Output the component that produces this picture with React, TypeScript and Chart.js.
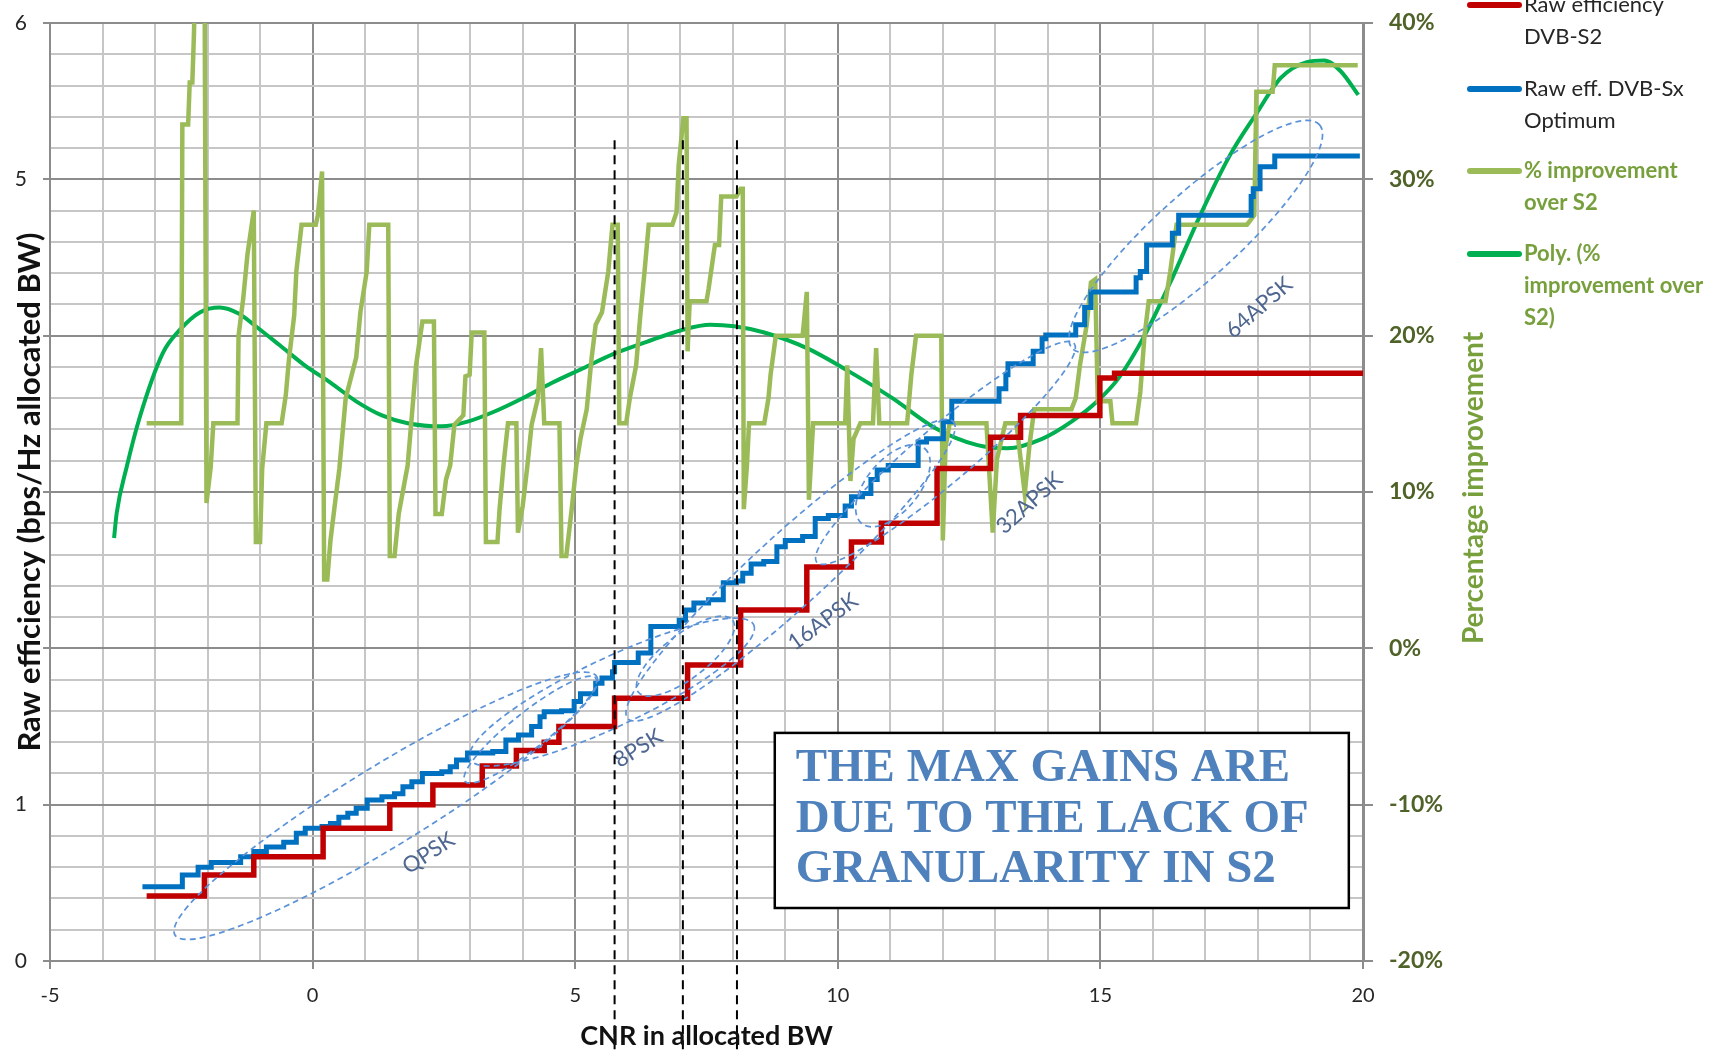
import React, { useEffect, useRef } from 'react';
import { Chart, registerables } from 'chart.js';
Chart.register(...registerables);
Chart.defaults.font.family = 'Lato';

// ---- DVB-S2 raw efficiency (step changes) ----
const cnrS2 = [-3.16, -2.06, -1.12, 0.20, 1.47, 2.29, 3.23, 3.88, 4.41, 4.69, 5.75, 7.14, 8.15, 9.41, 10.26, 10.83, 11.89, 12.91, 13.48, 14.99, 15.27, 20.0];
const effS2 = [0.416, 0.55, 0.667, 0.849, 1.0, 1.126, 1.248, 1.346, 1.40, 1.50, 1.68, 1.894, 2.245, 2.52, 2.68, 2.80, 3.15, 3.35, 3.49, 3.73, 3.76, 3.76];

// ---- DVB-Sx optimum raw efficiency (step changes) ----
const cnrSx = [-3.24, -2.48, -2.18, -1.93, -1.37, -1.12, -0.88, -0.55, -0.31, -0.14, 0.18, 0.34, 0.50, 0.67, 0.83, 1.04, 1.32, 1.56, 1.72, 1.89, 2.09, 2.46, 2.62, 2.74, 2.95, 3.43, 3.68, 3.92, 4.17, 4.33, 4.41, 4.74, 4.98, 5.10, 5.39, 5.51, 5.71, 5.75, 6.20, 6.44, 6.98, 7.10, 7.26, 7.54, 7.82, 8.07, 8.19, 8.35, 8.59, 8.84, 9.00, 9.33, 9.57, 9.82, 10.14, 10.26, 10.47, 10.63, 10.75, 10.96, 11.53, 11.69, 12.01, 12.17, 13.07, 13.20, 13.24, 13.72, 13.89, 13.96, 14.53, 14.70, 14.82, 15.68, 15.76, 15.88, 16.37, 16.49, 17.87, 17.91, 18.04, 18.32, 19.94];
const effSx = [0.475, 0.55, 0.60, 0.63, 0.667, 0.70, 0.73, 0.76, 0.817, 0.849, 0.86, 0.88, 0.92, 0.945, 0.977, 1.03, 1.05, 1.07, 1.115, 1.147, 1.20, 1.21, 1.243, 1.286, 1.33, 1.34, 1.414, 1.446, 1.50, 1.563, 1.595, 1.60, 1.66, 1.71, 1.777, 1.81, 1.85, 1.91, 1.97, 2.14, 2.18, 2.245, 2.29, 2.31, 2.42, 2.43, 2.48, 2.54, 2.555, 2.65, 2.69, 2.715, 2.83, 2.85, 2.91, 2.97, 2.99, 3.08, 3.14, 3.17, 3.32, 3.34, 3.45, 3.58, 3.66, 3.75, 3.82, 3.90, 3.98, 4.005, 4.07, 4.18, 4.28, 4.37, 4.41, 4.58, 4.655, 4.77, 4.89, 4.94, 5.08, 5.15, 5.15];

// ---- % improvement over S2 ----
const cnrImp = [-3.16, -2.50, -2.48, -2.37, -2.34, -2.29, -2.26, -2.21, -2.06, -2.02, -1.94, -1.89, -1.43, -1.41, -1.32, -1.24, -1.12, -1.08, -1.0, -0.96, -0.88, -0.59, -0.51, -0.45, -0.35, -0.31, -0.21, 0.06, 0.10, 0.18, 0.22, 0.28, 0.34, 0.42, 0.51, 0.63, 0.83, 0.91, 1.03, 1.08, 1.44, 1.47, 1.56, 1.64, 1.81, 1.89, 1.97, 2.09, 2.31, 2.34, 2.46, 2.54, 2.62, 2.70, 2.87, 2.91, 2.99, 3.03, 3.27, 3.30, 3.52, 3.56, 3.64, 3.72, 3.88, 3.91, 4.0, 4.09, 4.17, 4.29, 4.35, 4.41, 4.70, 4.74, 4.83, 4.94, 5.02, 5.10, 5.22, 5.31, 5.39, 5.51, 5.63, 5.71, 5.81, 5.84, 5.97, 6.04, 6.16, 6.24, 6.32, 6.40, 6.85, 6.93, 6.97, 7.06, 7.12, 7.14, 7.18, 7.50, 7.54, 7.66, 7.74, 7.78, 8.07, 8.15, 8.19, 8.21, 8.27, 8.31, 8.60, 8.68, 8.72, 8.82, 9.33, 9.41, 9.45, 9.53, 10.14, 10.18, 10.24, 10.30, 10.43, 10.67, 10.73, 10.79, 11.32, 11.40, 11.49, 11.97, 12.00, 12.05, 12.13, 12.83, 12.95, 13.03, 13.19, 13.40, 13.56, 13.65, 13.74, 14.45, 14.53, 14.61, 14.74, 14.82, 14.90, 14.95, 15.19, 15.23, 15.68, 15.76, 15.84, 15.92, 16.24, 16.33, 16.45, 17.79, 17.93, 17.97, 18.28, 18.32, 19.90];
const impPct = [14.4, 14.4, 33.5, 33.5, 36.2, 36.2, 39.2, 46, 46, 9.3, 11.6, 14.4, 14.4, 20.0, 22.4, 25.2, 28.0, 6.8, 6.8, 11.5, 14.4, 14.4, 16.2, 18.5, 21.3, 24.1, 27.1, 27.1, 27.7, 30.5, 4.4, 4.4, 6.9, 9.1, 11.5, 16.0, 18.6, 21.5, 24.1, 27.1, 27.1, 5.9, 5.9, 8.6, 11.7, 14.9, 18.1, 20.9, 20.9, 8.6, 8.6, 10.8, 11.7, 14.3, 14.9, 17.4, 17.5, 20.2, 20.2, 6.8, 6.8, 8.9, 11.9, 14.4, 14.4, 7.4, 9.1, 11.7, 14.3, 16.0, 19.2, 14.4, 14.4, 5.9, 5.9, 9.1, 11.7, 13.4, 15.3, 18.5, 20.7, 21.5, 24.1, 27.1, 27.1, 14.4, 14.4, 16.0, 18.1, 21.3, 24.1, 27.1, 27.1, 27.9, 30.9, 33.9, 33.9, 19.0, 22.2, 22.2, 23.0, 25.8, 25.8, 28.9, 28.9, 29.4, 29.4, 8.9, 11.7, 14.4, 14.4, 16.0, 17.5, 20.0, 20.0, 22.8, 9.5, 14.4, 14.4, 18.1, 10.7, 13.4, 14.4, 14.4, 19.2, 14.4, 14.4, 17.5, 20.0, 20.0, 6.9, 12.8, 14.4, 14.4, 7.4, 12.1, 14.4, 14.4, 9.9, 13.0, 15.3, 15.3, 16.0, 18.1, 20.7, 23.4, 23.6, 15.8, 15.8, 14.4, 14.4, 16.4, 20.0, 22.2, 22.2, 24.1, 27.1, 27.1, 27.7, 35.6, 35.6, 37.3, 37.3];

// ---- Poly. trend of % improvement ----
const cnrPoly = [-3.78, -3.73, -3.54, -3.29, -2.85, -2.52, -2.14, -1.77, -1.40, -1.12, -0.63, -0.15, 0.34, 0.83, 1.32, 1.81, 2.46, 2.95, 3.43, 4.0, 4.57, 5.14, 5.71, 6.36, 7.02, 7.57, 8.03, 8.6, 9.41, 10.22, 11.04, 11.85, 12.66, 13.23, 13.89, 14.45, 14.94, 15.35, 15.84, 16.33, 16.9, 17.46, 17.95, 18.44, 18.93, 19.26, 19.58, 19.91];
const polyPct = [7.06, 8.66, 11.6, 14.8, 18.9, 20.4, 21.5, 21.8, 21.4, 20.7, 19.4, 18.1, 17.0, 15.8, 14.9, 14.4, 14.2, 14.5, 15.1, 16.0, 17.0, 17.9, 18.8, 19.6, 20.35, 20.7, 20.6, 20.2, 19.2, 17.7, 16.0, 14.1, 13.0, 12.8, 13.4, 14.5, 15.8, 17.3, 20.0, 23.4, 27.7, 31.5, 34.1, 36.5, 37.5, 37.6, 36.9, 35.4];

// ---- annotations ----
const cutLines = [5.75, 7.05, 8.08];
const seriesNames = ['Raw efficiency|DVB-S2', 'Raw eff. DVB-Sx|Optimum', '% improvement|over S2', 'Poly. (%|improvement over|S2)'];
const modGroups = ['QPSK', '8PSK', '16APSK', '32APSK', '64APSK'];
const boxLines = ['THE MAX GAINS ARE', 'DUE TO THE LACK OF', 'GRANULARITY IN S2'];

const ELLIPSES = [
  { x1: -2.62, y1: 0.166, x2: 5.41, y2: 1.82, minor: 40 },
  { x1: 2.9, y1: 1.15, x2: 5.39, y2: 1.81, minor: 18 },
  { x1: 3.0, y1: 1.29, x2: 8.4, y2: 2.15, minor: 34 },
  { x1: 6.2, y1: 1.72, x2: 8.0, y2: 2.18, minor: 22 },
  { x1: 6.0, y1: 1.55, x2: 12.2, y2: 3.45, minor: 36 },
  { x1: 10.45, y1: 2.80, x2: 11.65, y2: 3.28, minor: 26 },
  { x1: 9.6, y1: 2.55, x2: 14.5, y2: 3.95, minor: 28 },
  { x1: 14.46, y1: 3.92, x2: 19.17, y2: 5.35, minor: 42 },
];
const GROUP_POS = [
  { x: 2.21, y: 0.69, a: -33 },
  { x: 6.2, y: 1.36, a: -32 },
  { x: 9.72, y: 2.17, a: -36 },
  { x: 13.65, y: 2.93, a: -42 },
  { x: 18.02, y: 4.18, a: -41 },
];

const RED = '#C00000';
const BLUE = '#0070C0';
const LGREEN = '#9BBB59';
const DGREEN = '#00B050';
const TXTGREEN = '#77A03D';

const isInt = (v: number) => Math.abs(v - Math.round(v)) < 1e-6;

const overlay = {
  id: 'overlay',
  afterDatasetsDraw(chart: any) {
    const { ctx } = chart;
    const xs = chart.scales.x;
    const ys = chart.scales.y;
    const px = (v: number) => xs.getPixelForValue(v);
    const py = (v: number) => ys.getPixelForValue(v);

    // ellipses
    ctx.save();
    ctx.strokeStyle = '#5B92D8';
    ctx.lineWidth = 1.7;
    ctx.setLineDash([6, 4]);
    for (const e of ELLIPSES) {
      const ax = px(e.x1), ay = py(e.y1), bx = px(e.x2), by = py(e.y2);
      const cx = (ax + bx) / 2, cy = (ay + by) / 2;
      const a = Math.hypot(bx - ax, by - ay) / 2;
      const ang = Math.atan2(by - ay, bx - ax);
      ctx.beginPath();
      ctx.ellipse(cx, cy, a, e.minor, ang, 0, Math.PI * 2);
      ctx.stroke();
    }
    ctx.restore();

    // group labels
    ctx.save();
    ctx.fillStyle = '#4F6690';
    ctx.font = '22px Lato';
    ctx.textAlign = 'center';
    ctx.textBaseline = 'middle';
    modGroups.forEach((t, i) => {
      const g = GROUP_POS[i];
      ctx.save();
      ctx.translate(px(g.x), py(g.y));
      ctx.rotate((g.a * Math.PI) / 180);
      ctx.fillText(t, 0, 0);
      ctx.restore();
    });
    ctx.restore();

    // vertical dashed lines
    ctx.save();
    ctx.strokeStyle = '#000';
    ctx.lineWidth = 2;
    ctx.setLineDash([9, 6]);
    for (const c of cutLines) {
      ctx.beginPath();
      ctx.moveTo(px(c), py(5.25));
      ctx.lineTo(px(c), chart.height);
      ctx.stroke();
    }
    ctx.restore();

    // annotation box
    const bl = px(8.8), br = px(19.73), bt = py(1.459), bb = py(0.339);
    ctx.save();
    ctx.fillStyle = '#fff';
    ctx.fillRect(bl, bt, br - bl, bb - bt);
    ctx.strokeStyle = '#000';
    ctx.lineWidth = 2.5;
    ctx.strokeRect(bl, bt, br - bl, bb - bt);
    ctx.fillStyle = '#4F81BD';
    ctx.font = 'bold 46px "Liberation Serif"';
    ctx.textBaseline = 'middle';
    ctx.textAlign = 'left';
    const w = ctx.measureText(boxLines[1]).width;
    const sx = 513 / w;
    const lineYs = [bt + 36, bt + 87, bt + 137];
    boxLines.forEach((t, i) => {
      ctx.save();
      ctx.translate(bl + 21, lineYs[i]);
      ctx.scale(sx, 1);
      ctx.fillText(t, 0, 0);
      ctx.restore();
    });
    ctx.restore();
  },
  afterDraw(chart: any) {
    const { ctx, chartArea } = chart;
    // axis titles
    ctx.save();
    ctx.fillStyle = '#111';
    ctx.font = 'bold 31px Lato';
    ctx.textAlign = 'center';
    ctx.textBaseline = 'middle';
    ctx.save();
    ctx.translate(30, (chartArea.top + chartArea.bottom) / 2);
    ctx.rotate(-Math.PI / 2);
    ctx.fillText('Raw efficiency (bps/Hz allocated BW)', 0, 0);
    ctx.restore();
    ctx.font = 'bold 27px Lato';
    ctx.fillText('CNR in allocated BW', (chartArea.left + chartArea.right) / 2, 1036);
    ctx.fillStyle = TXTGREEN;
    ctx.font = 'bold 28px Lato';
    ctx.save();
    ctx.translate(1474, (chartArea.top + chartArea.bottom) / 2 - 4);
    ctx.rotate(-Math.PI / 2);
    ctx.fillText('Percentage improvement', 0, 0);
    ctx.restore();
    ctx.restore();

    // legend
    const colors = [RED, BLUE, LGREEN, DGREEN];
    const tops = [5, 89, 171, 254];
    ctx.save();
    ctx.textAlign = 'left';
    ctx.textBaseline = 'middle';
    seriesNames.forEach((name, i) => {
      ctx.strokeStyle = colors[i];
      ctx.lineWidth = 6;
      ctx.lineCap = 'round';
      ctx.beginPath();
      ctx.moveTo(1470, tops[i]);
      ctx.lineTo(1519, tops[i]);
      ctx.stroke();
      ctx.fillStyle = i < 2 ? '#262626' : TXTGREEN;
      ctx.font = i < 2 ? '22px Lato' : 'bold 22px Lato';
      name.split('|').forEach((ln, j) => {
        ctx.fillText(ln, 1524, tops[i] + j * 32);
      });
    });
    ctx.restore();
  },
};

export default function App() {
  const ref = useRef<HTMLCanvasElement>(null);
  useEffect(() => {
    if (!ref.current) return;
    const gridColor = (c: any) => (isInt(c.tick.value / (c.scale.id === 'x' ? 5 : 1)) ? '#8c8c8c' : '#c6c6c6');
    const tickColor = (c: any) => (isInt(c.tick.value / (c.scale.id === 'x' ? 5 : 1)) ? '#8c8c8c' : 'rgba(0,0,0,0)');
    const chart = new Chart(ref.current, {
      type: 'line',
      data: {
        datasets: [
          {
            label: 'Raw efficiency DVB-S2',
            data: cnrS2.map((x, i) => ({ x, y: effS2[i] })),
            borderColor: RED, borderWidth: 5.5, pointRadius: 0, stepped: true, yAxisID: 'y',
          },
          {
            label: 'Raw eff. DVB-Sx Optimum',
            data: cnrSx.map((x, i) => ({ x, y: effSx[i] })),
            borderColor: BLUE, borderWidth: 5, pointRadius: 0, stepped: true, yAxisID: 'y',
          },
          {
            label: '% improvement over S2',
            data: cnrImp.map((x, i) => ({ x, y: impPct[i] })),
            borderColor: LGREEN, borderWidth: 4.5, pointRadius: 0, tension: 0, yAxisID: 'y2',
          },
          {
            label: 'Poly. (% improvement over S2)',
            data: cnrPoly.map((x, i) => ({ x, y: polyPct[i] })),
            borderColor: DGREEN, borderWidth: 4, pointRadius: 0, cubicInterpolationMode: 'monotone', yAxisID: 'y2',
          },
        ] as any,
      },
      options: {
        responsive: false,
        animation: false,
        devicePixelRatio: 1,
        layout: { padding: { top: 23, left: 0, right: 0, bottom: 0 } },
        plugins: { legend: { display: false }, tooltip: { enabled: false }, title: { display: false } },
        scales: {
          x: {
            type: 'linear', min: -5, max: 20, position: 'bottom',
            ticks: {
              stepSize: 1, autoSkip: false, maxRotation: 0, padding: 15, color: '#262626',
              font: { size: 20 },
              callback: (v: any) => (isInt(v / 5) ? String(Math.round(v)) : ''),
            },
            grid: { color: gridColor, lineWidth: 2, tickLength: 8, tickColor, tickWidth: 2 },
            border: { color: '#8c8c8c', width: 2 },
            afterFit: (s: any) => { s.height = 92; s.paddingLeft = 0; s.paddingRight = 0; },
          },
          y: {
            type: 'linear', min: 0, max: 6, position: 'left',
            ticks: {
              stepSize: 0.2, autoSkip: false, padding: 16, color: '#262626',
              font: { size: 21 },
              callback: (v: any) => {
                if (!isInt(v)) return '';
                const r = Math.round(v);
                return r >= 2 && r <= 4 ? '' : String(r);
              },
            },
            grid: { color: gridColor, lineWidth: 2, tickLength: 7, tickColor, tickWidth: 2 },
            border: { color: '#8c8c8c', width: 2 },
            afterFit: (s: any) => { s.width = 50; s.paddingTop = 0; s.paddingBottom = 0; },
          },
          y2: {
            type: 'linear', min: -20, max: 40, position: 'right',
            ticks: {
              stepSize: 10, padding: 16, color: '#4F6228',
              font: { size: 23, weight: 'bold' },
              callback: (v: any) => `${v}%`,
            },
            grid: { drawOnChartArea: false, color: '#8c8c8c', lineWidth: 2, tickLength: 10 },
            border: { color: '#8c8c8c', width: 3 },
            afterFit: (s: any) => { s.width = 369; s.paddingTop = 0; s.paddingBottom = 0; },
          },
        },
      } as any,
      plugins: [overlay],
    });
    return () => chart.destroy();
  }, []);
  return (
    <div style={{ position: 'absolute', left: 0, top: 0, width: 1732, height: 1053, background: '#fff' }}>
      <canvas ref={ref} width={1732} height={1053} style={{ display: 'block' }} />
    </div>
  );
}
